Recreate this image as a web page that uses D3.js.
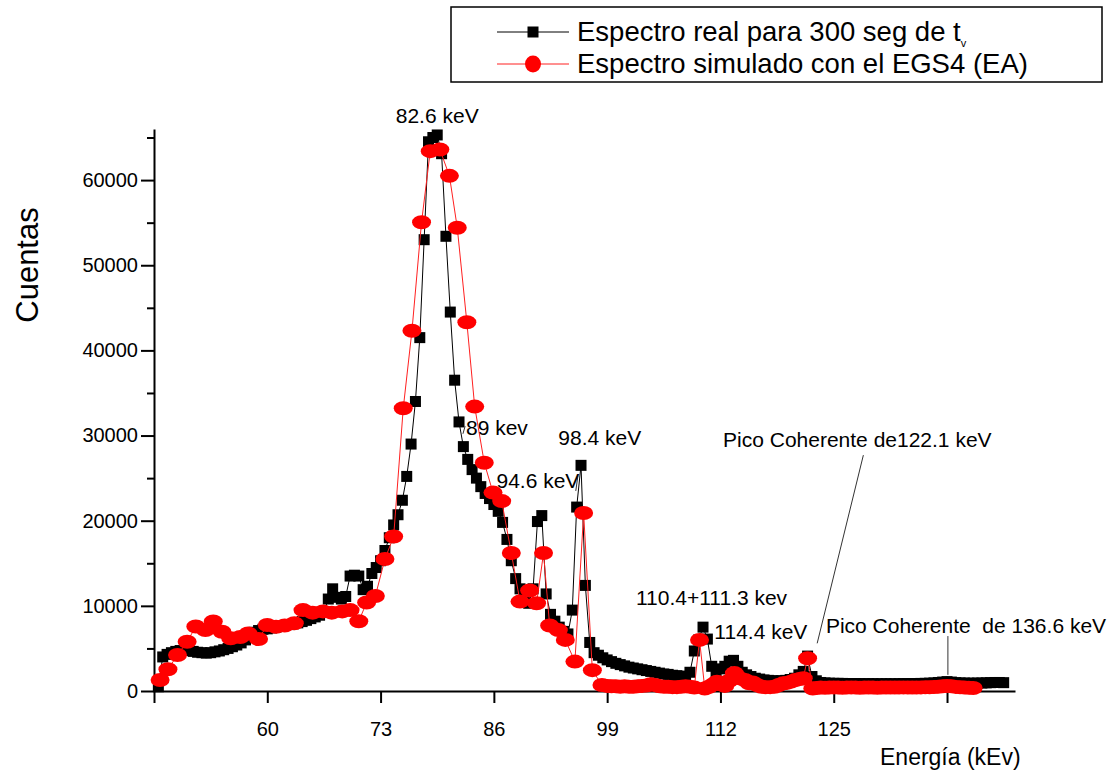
<!DOCTYPE html>
<html>
<head>
<meta charset="utf-8">
<script src="https://cdn.jsdelivr.net/npm/d3@7"></script>
<style>
  body { margin: 0; background: #fff; }
  svg { display: block; font-family: "Liberation Sans", Arial, sans-serif; }
</style>
</head>
<body>
<svg id="chart"></svg>
<script>
// measured spectrum (black squares)
const realEnergy = [
  47.5, 48, 48.5, 49, 49.5, 50, 50.5, 51, 51.5, 52,
  52.5, 53, 53.5, 54, 54.5, 55, 55.5, 56, 56.5, 57,
  57.5, 58, 58.5, 59, 59.5, 60, 60.5, 61, 61.5, 62,
  62.5, 63, 63.5, 64, 64.5, 65, 65.5, 66, 66.5, 67,
  67.5, 68, 68.5, 69, 69.5, 70, 70.5, 71, 71.5, 72,
  72.5, 73, 73.5, 74, 74.5, 75, 75.5, 76, 76.5, 77,
  77.5, 78, 78.5, 79, 79.5, 80, 80.5, 81, 81.5, 82,
  82.5, 83, 83.5, 84, 84.5, 85, 85.5, 86, 86.5, 87,
  87.5, 88, 88.5, 89, 89.5, 90, 90.5, 91, 91.5, 92,
  92.5, 93, 93.5, 94, 94.5, 95, 95.5, 96, 96.5, 97,
  97.5, 98, 98.5, 99, 99.5, 100, 100.5, 101, 101.5, 102,
  102.5, 103, 103.5, 104, 104.5, 105, 105.5, 106, 106.5, 107,
  107.5, 108, 108.5, 109, 109.5, 110, 110.5, 111, 111.5, 112,
  112.5, 113, 113.5, 114, 114.5, 115, 115.5, 116, 116.5, 117,
  117.5, 118, 118.5, 119, 119.5, 120, 120.5, 121, 121.5, 122,
  122.5, 123, 123.5, 124, 124.5, 125, 125.5, 126, 126.5, 127,
  127.5, 128, 128.5, 129, 129.5, 130, 130.5, 131, 131.5, 132,
  132.5, 133, 133.5, 134, 134.5, 135, 135.5, 136, 136.5, 137,
  137.5, 138, 138.5, 139, 139.5, 140, 140.5, 141, 141.5, 142,
  142.5, 143, 143.5, 144, 144.5
];
const realCounts = [
  500, 4000, 4300, 4500, 4650, 4750, 4800, 4750, 4650, 4550,
  4500, 4450, 4500, 4600, 4700, 4850, 5000, 5200, 5400, 5650,
  6000, 6500, 6900, 7100, 7250, 7300, 7400, 7500, 7600, 7700,
  7800, 7900, 8000, 8150, 8300, 8500, 8700, 8900, 9300, 10800,
  12000, 11000, 10800, 11100, 13500, 13600, 13500, 11900, 12300, 13800,
  14500, 15300, 16500, 18000, 19500, 20700, 22400, 25200, 29000, 34000,
  41500, 53000, 64500, 65000, 65300, 63100, 53400, 44500, 36500, 31600,
  28700, 27200, 26000, 25000, 24000, 23200, 22600, 21900, 21100, 19800,
  17800, 15300, 13200, 12000, 11500, 10300, 12000, 19900, 20600, 11400,
  9000, 8200, 7500, 7000, 6700, 9500, 21600, 26500, 12400, 5700,
  4500, 4200, 3900, 3650, 3450, 3250, 3100, 2950, 2800, 2700,
  2600, 2500, 2400, 2300, 2200, 2100, 2000, 1950, 1850, 1800,
  1750, 1700, 2200, 4700, 6000, 7500, 6100, 2900, 2200, 2600,
  2900, 3500, 3600, 2900, 2200, 1900, 1700, 1500, 1400, 1300,
  1250, 1200, 1200, 1200, 1250, 1350, 1500, 1900, 2300, 4100,
  1700, 1200, 1000, 950, 920, 900, 900, 890, 880, 880,
  870, 870, 860, 860, 860, 850, 850, 860, 850, 850,
  860, 870, 870, 880, 880, 890, 900, 920, 950, 1000,
  1050, 1100, 1050, 980, 950, 930, 920, 920, 930, 940,
  960, 980, 1000, 1000, 980
];

// simulated spectrum EGS4 (red circles)
const simEnergy = [
  47.7, 48.6, 49.7, 50.8, 51.8, 52.9, 53.8, 54.8, 55.8, 56.9,
  57.8, 59.0, 60.0, 61.0, 62.0, 63.1, 64.1, 65.2, 66.4, 67.4,
  68.6, 69.5, 70.5, 71.4, 72.4, 73.5, 74.5, 75.6, 76.6, 77.7,
  78.7, 79.8, 80.9, 81.8, 82.9, 83.8, 84.9, 85.9, 86.9, 88.0,
  89.0, 90.1, 90.9, 91.7, 92.4, 93.4, 94.2, 95.3, 96.3, 97.3,
  98.4, 99, 99.5, 100, 100.5, 101, 101.5, 102, 102.5, 103,
  103.5, 104, 104.5, 105, 105.5, 106, 106.5, 107, 107.5, 108,
  108.5, 109, 109.6, 110.2, 110.7, 111.2, 111.6, 112, 112.5, 113,
  113.6, 114.2, 114.8, 115.3, 115.7, 116.2, 116.7, 117.2, 117.7, 118.2,
  118.7, 119.2, 119.6, 120.1, 120.6, 121.1, 121.5, 122, 122.6, 123,
  123.5, 124, 124.5, 125, 125.5, 126, 126.5, 127, 127.5, 128,
  128.5, 129, 129.5, 130, 130.5, 131, 131.5, 132, 132.5, 133,
  133.5, 134, 134.5, 135, 135.5, 136, 136.5, 137, 137.5, 138,
  138.5, 139, 139.5, 140, 140.5, 141
];
const simCounts = [
  1290, 2550, 4230, 5790, 7570, 7160, 8160, 6960, 6200, 6350,
  6750, 6100, 7750, 7550, 7700, 7950, 9500, 9200, 9350, 9200,
  9350, 9500, 8200, 10400, 11150, 15500, 18150, 33200, 42300, 55050,
  63400, 63600, 60500, 54400, 43300, 33400, 26800, 23300, 22300, 16200,
  10500, 11800, 10300, 16200, 7700, 7150, 6000, 3450, 20900, 2450,
  700, 600, 550, 550, 500, 550, 500, 500, 550, 600,
  650, 800, 700, 550, 500, 500, 450, 450, 500, 550,
  500, 400, 6000, 300, 500, 800, 1100, 800, 600, 1200,
  2100, 1500, 1300, 900, 1000, 700, 500, 450, 450, 500,
  700, 900, 950, 1100, 1300, 1400, 1500, 3850, 300, 350,
  400, 380, 400, 420, 400, 380, 400, 420, 400, 390,
  400, 410, 400, 390, 400, 410, 400, 400, 410, 420,
  410, 400, 410, 420, 430, 440, 460, 500, 560, 600,
  560, 480, 430, 400, 380, 360
];

const xTicks = [47, 60, 73, 86, 99, 112, 125, 138];
const xTickLabels = ["", "60", "73", "86", "99", "112", "125", ""];
const yMajorTicks = [0, 10000, 20000, 30000, 40000, 50000, 60000];
const yMinorTicks = [5000, 15000, 25000, 35000, 45000, 55000, 65000];

const seriesNames = ["Espectro real para 300 seg de t", "Espectro simulado con el EGS4 (EA)"];

// peak labels: [text, energy, counts, anchor]
const peakLabels = [
  ["82.6 keV", 79.5, 66700, "middle"],
  ["89 kev", 82.8, 30050, "start"],
  ["94.6 keV", 86.3, 23850, "start"],
  ["98.4 keV", 93.4, 28850, "start"],
  ["Pico Coherente de122.1 keV", 112.3, 28650, "start"],
  ["110.4+111.3 kev", 102.3, 10100, "start"],
  ["114.4 keV", 111.3, 6100, "start"],
  ["Pico Coherente  de 136.6 keV", 124.1, 6800, "start"]
];
// leader lines: [e1, c1, e2, c2]
const leaders = [
  [82.7, 31100, 82.45, 30200],
  [95.65, 25300, 95.4, 23500],
  [128.4, 27700, 123.1, 5600],
  [138.1, 6450, 138.1, 1900]
];

const size = { width: 1116, height: 771 };
const svg = d3.select("#chart").attr("width", size.width).attr("height", size.height);

const x = d3.scaleLinear().domain([47, 145.8]).range([154, 1015]);
const y = d3.scaleLinear().domain([0, 66000]).range([691, 129]);

// axes
const xAxis = d3.axisBottom(x).tickValues(xTicks).tickSize(12).tickPadding(19).tickSizeOuter(0)
  .tickFormat((d, i) => xTickLabels[i]);
const yAxis = d3.axisLeft(y).tickValues(yMajorTicks).tickSize(13).tickPadding(3).tickSizeOuter(0)
  .tickFormat(d3.format("d"));
const yMinor = d3.axisLeft(y).tickValues(yMinorTicks).tickSize(7).tickSizeOuter(0).tickFormat("");

const gx = svg.append("g").attr("transform", "translate(0,691)").call(xAxis);
const gy = svg.append("g").attr("transform", "translate(154,0)").call(yAxis);
const gm = svg.append("g").attr("transform", "translate(154,0)").call(yMinor);
gm.select(".domain").remove();
[gx, gy, gm].forEach(g => {
  g.attr("font-family", null).attr("font-size", null);
  g.selectAll("path, line").attr("stroke", "#000").attr("stroke-width", 2);
  g.selectAll("text").attr("fill", "#000").style("font-size", "20px");
});

svg.append("text").attr("transform", "translate(38,265) rotate(-90)")
  .attr("text-anchor", "middle").style("font-size", "31px").text("Cuentas");
svg.append("text").attr("x", 880).attr("y", 765).style("font-size", "23px").text("Energía (kEv)");

// series
const realData = d3.zip(realEnergy, realCounts);
const simData = d3.zip(simEnergy, simCounts);
const line = d3.line().x(d => x(d[0])).y(d => y(d[1]));

svg.append("path").datum(realData).attr("d", line)
  .attr("fill", "none").attr("stroke", "#000").attr("stroke-width", 1);
svg.append("g").selectAll("rect").data(realData).enter().append("rect")
  .attr("x", d => x(d[0]) - 5.5).attr("y", d => y(d[1]) - 5.5)
  .attr("width", 11).attr("height", 11).attr("fill", "#000");

svg.append("path").datum(simData).attr("d", line)
  .attr("fill", "none").attr("stroke", "#ff2020").attr("stroke-width", 1);
svg.append("g").selectAll("ellipse").data(simData).enter().append("ellipse")
  .attr("cx", d => x(d[0])).attr("cy", d => y(d[1]))
  .attr("rx", 9.5).attr("ry", 7).attr("fill", "#ff0000");

// annotations
svg.append("g").selectAll("line").data(leaders).enter().append("line")
  .attr("x1", d => x(d[0])).attr("y1", d => y(d[1]))
  .attr("x2", d => x(d[2])).attr("y2", d => y(d[3]))
  .attr("stroke", "#333").attr("stroke-width", 1);
svg.append("g").selectAll("text").data(peakLabels).enter().append("text")
  .attr("x", d => x(d[1])).attr("y", d => y(d[2]))
  .attr("text-anchor", d => d[3])
  .style("font-size", "21px").style("white-space", "pre")
  .text(d => d[0]);

// legend
const legend = svg.append("g");
legend.append("rect").attr("x", 451).attr("y", 7).attr("width", 651).attr("height", 75)
  .attr("fill", "#fff").attr("stroke", "#000").attr("stroke-width", 1.5);
const rows = [32, 64];
rows.forEach((ry, i) => {
  legend.append("line").attr("x1", 497).attr("x2", 569).attr("y1", ry).attr("y2", ry)
    .attr("stroke", i === 0 ? "#000" : "#ff2020").attr("stroke-width", 1);
  const t = legend.append("text").attr("x", 577).attr("y", ry + 9).style("font-size", "27.5px").text(seriesNames[i]);
  if (i === 0) t.append("tspan").attr("dy", 6).style("font-size", "11px").text("v");
});
legend.append("rect").attr("x", 527.5).attr("y", 26.5).attr("width", 11).attr("height", 11).attr("fill", "#000");
legend.append("ellipse").attr("cx", 533).attr("cy", 64).attr("rx", 8).attr("ry", 8.5).attr("fill", "#ff0000");
</script>
</body>
</html>
